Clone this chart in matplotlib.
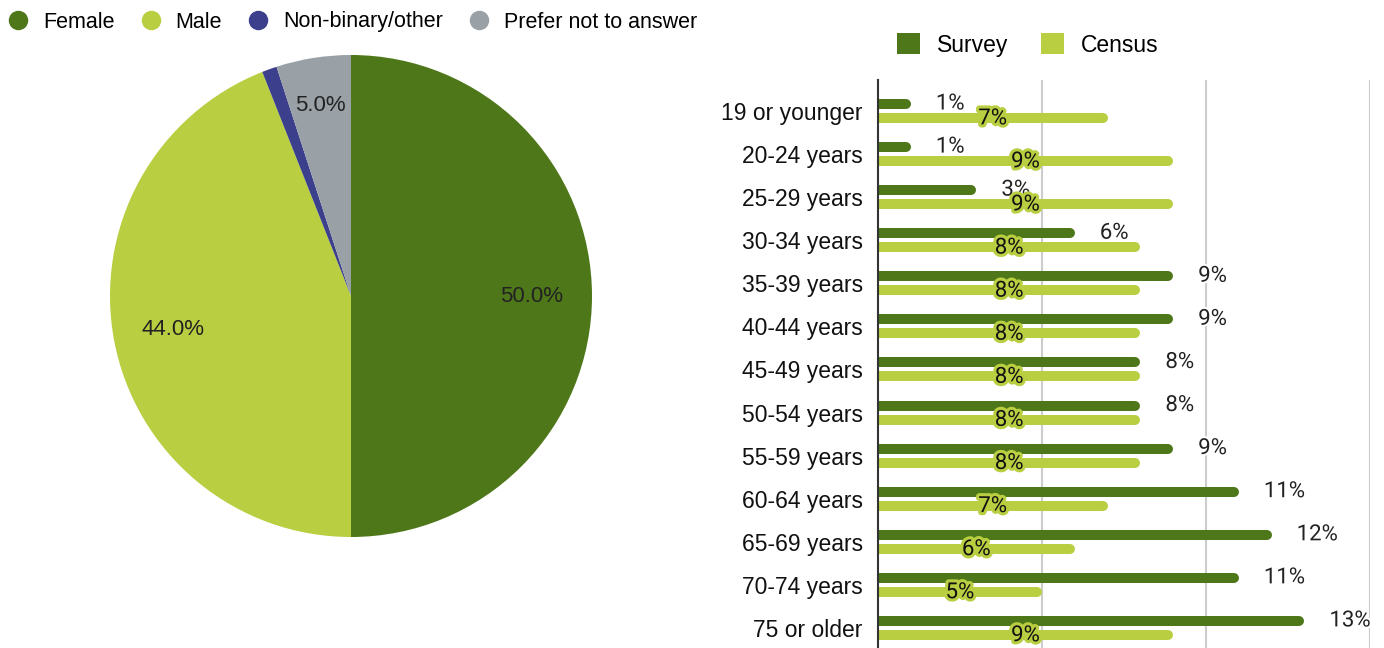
import matplotlib
matplotlib.use("Agg")
import matplotlib.pyplot as plt
from matplotlib.lines import Line2D
from matplotlib.patches import Patch
import matplotlib.patheffects as pe
import numpy as np

# ---- data ----
gender_labels = ["Female", "Male", "Non-binary/other", "Prefer not to answer"]
gender_values = [50.0, 44.0, 1.0, 5.0]
gender_colors = ["#4d7719", "#b9ce40", "#3b3f8c", "#9aa1a6"]

age_groups = ["19 or younger", "20-24 years", "25-29 years", "30-34 years",
              "35-39 years", "40-44 years", "45-49 years", "50-54 years",
              "55-59 years", "60-64 years", "65-69 years", "70-74 years",
              "75 or older"]
survey = [1, 1, 3, 6, 9, 9, 8, 8, 9, 11, 12, 11, 13]
census = [7, 9, 9, 8, 8, 8, 8, 8, 8, 7, 6, 5, 9]
series_names = ["Survey", "Census"]
series_colors = ["#4d7719", "#b9ce40"]

W, H = 1384, 648
fig = plt.figure(figsize=(W / 100, H / 100), dpi=100)
SANS = "Liberation Sans"

# ---- pie ----
cx, cy, r = 351, 296, 241
axp = fig.add_axes([(cx - r) / W, (H - cy - r) / H, 2 * r / W, 2 * r / H])
wedges, _, autotexts = axp.pie(
    gender_values, colors=gender_colors, startangle=90, counterclock=False,
    autopct=lambda p: f"{p:.1f}%" if p >= 2 else "", pctdistance=0.75,
    textprops=dict(fontsize=16, color="#222222", family=SANS),
    wedgeprops=dict(linewidth=0))
for w, t, v in zip(wedges, autotexts, gender_values):
    ang = np.deg2rad((w.theta1 + w.theta2) / 2)
    d = 0.75 if v > 10 else 0.80
    t.set_position((d * np.cos(ang), d * np.sin(ang)))
axp.set_xlim(-1, 1)
axp.set_ylim(-1, 1)
axp.set_aspect("equal")

handles = [Line2D([], [], marker="o", ls="", color=c, markersize=13) for c in gender_colors]
fig.legend(handles, gender_labels, loc="center left", bbox_to_anchor=(5 / W, 1 - 22 / H),
           ncol=4, frameon=False, prop=dict(family=SANS, size=15.5),
           handletextpad=0.57, columnspacing=1.07, handlelength=1.2, borderaxespad=0,
           borderpad=0)

# ---- bars ----
x0, x1 = 878, 1370
top, bottom = 80, 648
axb = fig.add_axes([x0 / W, (H - bottom) / H, (x1 - x0) / W, (bottom - top) / H])
xmax = 15
px_per_unit = (x1 - x0) / xmax
row = 43.08
c0 = 111
axb.set_xlim(0, xmax)
axb.set_ylim((bottom - c0) / row, -(c0 - top) / row)

y = np.arange(len(age_groups))
off = 7 / row
lw_px = 10
cap = (lw_px / 2) / px_per_unit
for vals, dy, col in [(survey, -off, series_colors[0]), (census, off, series_colors[1])]:
    for yi, v in zip(y, vals):
        axb.plot([0, v - cap], [yi + dy, yi + dy], color=col, lw=lw_px * 0.72,
                 solid_capstyle="round", zorder=3)

for yi, v in zip(y, survey):
    axb.annotate(f"{v}%", (v, yi - off), xytext=(18, 0), textcoords="offset points",
                 ha="left", va="center", fontsize=16, family="Roboto", color="#222222",
                 zorder=4, path_effects=[pe.withStroke(linewidth=3, foreground="white")])
for yi, v in zip(y, census):
    axb.text(v / 2, yi + off + 0.02, f"{v}%", ha="center", va="center", fontsize=16,
             family="Roboto", color="#111111", zorder=5,
             path_effects=[pe.withStroke(linewidth=4.5, foreground=series_colors[1])])

axb.set_yticks(y)
axb.set_yticklabels(age_groups, fontsize=16.5, family=SANS, color="#111111")
axb.tick_params(axis="y", length=0, pad=11)
axb.set_xticks([5, 10, 15])
axb.tick_params(axis="x", length=0, labelbottom=False)
axb.grid(axis="x", color="#cccccc", lw=1.5, zorder=0)
axb.set_axisbelow(True)
for s in ["top", "right", "bottom"]:
    axb.spines[s].set_visible(False)
axb.spines["left"].set_color("#333333")
axb.spines["left"].set_linewidth(1.5)
axb.spines["left"].set_zorder(6)

bh = [Patch(facecolor=c, edgecolor="none") for c in series_colors]
fig.legend(bh, series_names, loc="center left", bbox_to_anchor=(897 / W, 1 - 45 / H),
           ncol=2, frameon=False, prop=dict(family=SANS, size=16.5),
           handlelength=1.0, handleheight=1.0, handletextpad=0.74, columnspacing=1.44,
           borderaxespad=0, borderpad=0)

fig.savefig("out.png", dpi=100)
